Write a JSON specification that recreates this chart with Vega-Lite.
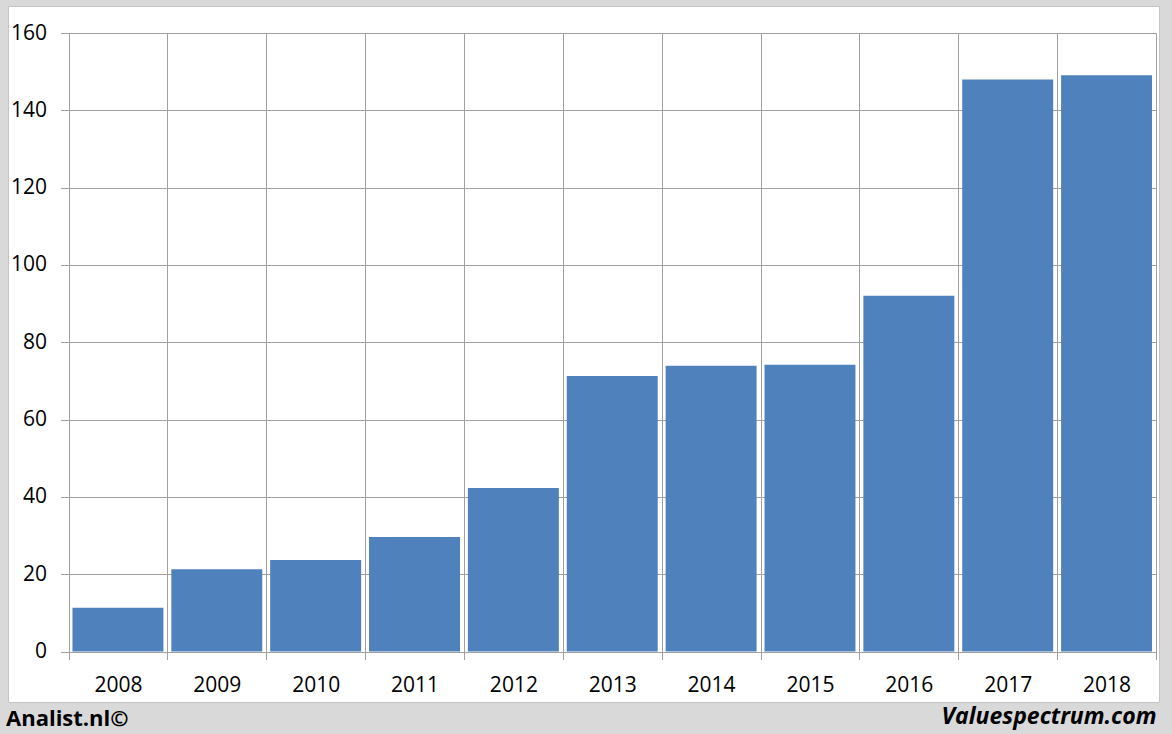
{
  "$schema": "https://vega.github.io/schema/vega-lite/v6.json",
  "autosize": {"type": "none"},
  "padding": {"left": 8, "top": 6, "right": 13, "bottom": 32},
  "width": 1151,
  "height": 696,
  "background": "#d9d9d9",
  "title": {
    "text": "Analist.nl©",
    "orient": "bottom",
    "anchor": "start",
    "frame": "group",
    "offset": -20,
    "font": "Open Sans",
    "fontSize": 22,
    "fontWeight": "bold",
    "color": "#000000",
    "dx": -2
  },
  "config": {
    "view": {"fill": "#ffffff", "stroke": "#c4c4c4", "strokeWidth": 1},
    "font": "Open Sans"
  },
  "data": {
    "values": [
      {"year": "2008", "value": 11.3},
      {"year": "2009", "value": 21.3},
      {"year": "2010", "value": 23.7},
      {"year": "2011", "value": 29.6},
      {"year": "2012", "value": 42.3},
      {"year": "2013", "value": 71.3},
      {"year": "2014", "value": 73.9},
      {"year": "2015", "value": 74.2},
      {"year": "2016", "value": 92.0},
      {"year": "2017", "value": 148.0},
      {"year": "2018", "value": 149.1}
    ]
  },
  "encoding": {
    "y": {
      "field": "value",
      "type": "quantitative",
      "scale": {"domain": [0, 160], "nice": false, "zero": true, "range": [645.5, 27]},
      "axis": {
        "orient": "left",
        "offset": -60.5,
        "values": [0, 20, 40, 60, 80, 100, 120, 140, 160],
        "grid": true,
        "gridColor": "#a0a0a0",
        "gridWidth": 1,
        "domain": false,
        "ticks": true,
        "tickSize": 8,
        "tickColor": "#a0a0a0",
        "labelFont": "Open Sans",
        "labelFontSize": 21,
        "labelColor": "#000000",
        "labelPadding": 14,
        "title": null
      }
    }
  },
  "layer": [
    {
      "mark": {"type": "bar", "color": "#4f81bd", "opacity": 0},
      "encoding": {
        "x": {
          "field": "year",
          "type": "ordinal",
          "scale": {"paddingInner": 0, "paddingOuter": 0, "range": [60.5, 1148]},
          "axis": {
            "orient": "top",
            "tickBand": "extent",
            "grid": true,
            "gridColor": "#a0a0a0",
            "gridWidth": 1,
            "domain": false,
            "ticks": false,
            "labels": false,
            "title": null
          }
        }
      }
    },
    {
      "mark": {"type": "bar", "color": "#4f81bd", "width": {"band": 0.92}},
      "encoding": {
        "x": {
          "field": "year",
          "type": "ordinal",
          "scale": {"paddingInner": 0, "paddingOuter": 0, "range": [60.5, 1148]},
          "axis": {
            "orient": "bottom",
            "offset": -50.5,
            "tickBand": "extent",
            "grid": false,
            "domain": false,
            "ticks": true,
            "tickSize": 8,
            "tickColor": "#a0a0a0",
            "labelAngle": 0,
            "labelFont": "Open Sans",
            "labelFontSize": 21,
            "labelColor": "#000000",
            "labelPadding": 15,
            "title": "Valuespectrum.com",
            "titleAnchor": "end",
            "titleFont": "Open Sans",
            "titleFontSize": 23,
            "titleFontWeight": "bold",
            "titleFontStyle": "italic",
            "titleColor": "#000000",
            "titlePadding": 10
          }
        }
      }
    }
  ],
  "resolve": {"axis": {"x": "independent"}}
}
